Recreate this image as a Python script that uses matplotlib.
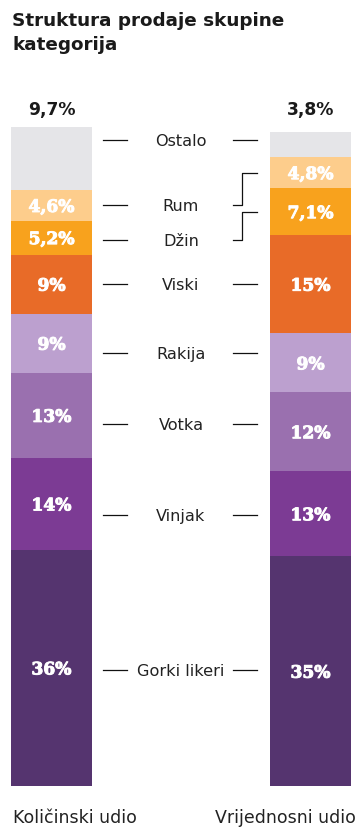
import matplotlib
matplotlib.use("Agg")
import matplotlib.pyplot as plt
import matplotlib.patheffects as pe
import numpy as np

# ---- data ----
categories = ["Gorki likeri", "Vinjak", "Votka", "Rakija", "Viski", "Džin", "Rum", "Ostalo"]
kolicinski = [36, 14, 13, 9, 9, 5.2, 4.6, 9.7]
vrijednosni = [35, 13, 12, 9, 15, 7.1, 4.8, 3.8]
kolicinski_lbl = ["36%", "14%", "13%", "9%", "9%", "5,2%", "4,6%", "9,7%"]
vrijednosni_lbl = ["35%", "13%", "12%", "9%", "15%", "7,1%", "4,8%", "3,8%"]
series_names = ["Količinski udio", "Vrijednosni udio"]
title = "Struktura prodaje skupine\nkategorija"

# ---- styles / layout ----
colors = ["#55346F", "#7C3B94", "#9A70AF", "#BCA0CF", "#E86B28", "#F8A21D", "#FDCD8C", "#E5E5E8"]
W, H = 362, 836
K = 6.56          # pixels per percent
BASE = 786        # pixel row of the 0 baseline
bar_x = [51.5, 310.5]
bar_w = 81
label_x = 181
# label rows (in % units on the bar scale)
label_y = [17.68, 41.31, 55.18, 66.01, 76.52, 83.23, 88.57, 98.48]
top_lbl_y = (BASE - 108) / K

fig = plt.figure(figsize=(W / 100, H / 100), dpi=100)
ax = fig.add_axes([0, 0, 1, 1])
ax.set_xlim(0, W)
ax.set_ylim(-(H - BASE) / K, BASE / K)
ax.axis("off")

pct_font = dict(family="DejaVu Serif", weight="bold", fontsize=12.3, color="white",
                path_effects=[pe.withStroke(linewidth=0.7, foreground="white")])

for bx, vals, lbls in [(bar_x[0], kolicinski, kolicinski_lbl), (bar_x[1], vrijednosni, vrijednosni_lbl)]:
    bottoms = np.concatenate([[0], np.cumsum(vals)[:-1]])
    ax.bar([bx] * len(vals), vals, bottom=bottoms, width=bar_w, color=colors, linewidth=0)
    for i, (v, b, t) in enumerate(zip(vals, bottoms, lbls)):
        if categories[i] == "Ostalo":
            ax.text(bx, top_lbl_y, t, ha="center", va="center_baseline", fontsize=12.3,
                    fontweight="bold", color="#1a1a1a", family="DejaVu Sans")
        else:
            ax.text(bx, b + v / 2, t, ha="center", va="center_baseline", **pct_font)

# category labels and leader lines
right_bottoms = np.concatenate([[0], np.cumsum(vrijednosni)[:-1]])
right_centers = right_bottoms + np.array(vrijednosni) / 2
lx0, lx1 = 103, 127
rx0, rx1 = 233, 257
for i, (cat, ly) in enumerate(zip(categories, label_y)):
    ax.text(label_x, ly, cat, ha="center", va="center_baseline", fontsize=11.6,
            color="#222222", family="DejaVu Sans")
    ax.plot([lx0, lx1], [ly, ly], color="#111111", lw=0.9)
    rc = right_centers[i]
    if abs(rc - ly) > 2.5 and cat in ("Rum", "Džin"):
        ax.plot([rx0, 242, 242, rx1], [ly, ly, rc, rc], color="#111111", lw=0.9)
    else:
        ax.plot([rx0, rx1], [ly, ly], color="#111111", lw=0.9)

# title
fig.text(12 / W, 1 - 12 / H, title, ha="left", va="top", fontsize=13.2,
         fontweight="bold", color="#1a1a1a", family="DejaVu Sans", linespacing=1.45)

# bottom labels
fig.text(13 / W, 1 - 816 / H, series_names[0], ha="left", va="center_baseline",
         fontsize=12.5, color="#222222", family="DejaVu Sans")
fig.text(356 / W, 1 - 816 / H, series_names[1], ha="right", va="center_baseline",
         fontsize=12.5, color="#222222", family="DejaVu Sans")

fig.savefig("out.png", dpi=100, facecolor="white")
